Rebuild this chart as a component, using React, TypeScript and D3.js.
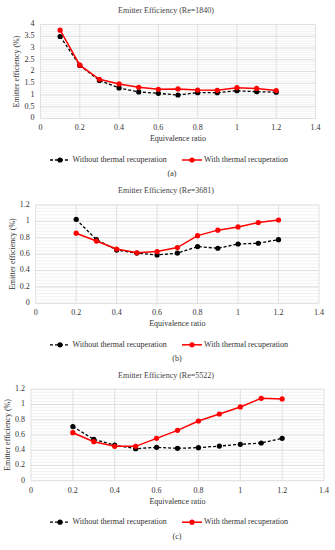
import React from "react";
import * as d3 from "d3";

// equivalence ratio
const phiA = [0.1, 0.2, 0.3, 0.4, 0.5, 0.6, 0.7, 0.8, 0.9, 1.0, 1.1, 1.2];
const phiBC = [0.2, 0.3, 0.4, 0.5, 0.6, 0.7, 0.8, 0.9, 1.0, 1.1, 1.2];

// Re=1840
const withoutA = [3.49, 2.26, 1.62, 1.3, 1.13, 1.07, 1.0, 1.1, 1.1, 1.18, 1.14, 1.12];
const withA = [3.76, 2.27, 1.67, 1.47, 1.33, 1.24, 1.26, 1.21, 1.2, 1.31, 1.28, 1.19];

// Re=3681
const withoutB = [1.025, 0.777, 0.65, 0.612, 0.59, 0.612, 0.692, 0.672, 0.724, 0.733, 0.777];
const withB = [0.856, 0.76, 0.663, 0.616, 0.632, 0.68, 0.826, 0.893, 0.932, 0.985, 1.017];

// Re=5522
const withoutC = [0.71, 0.543, 0.467, 0.42, 0.438, 0.425, 0.434, 0.455, 0.477, 0.495, 0.556];
const withC = [0.63, 0.512, 0.451, 0.451, 0.556, 0.661, 0.784, 0.876, 0.968, 1.082, 1.073];

const xTicks = [0, 0.2, 0.4, 0.6, 0.8, 1, 1.2, 1.4];
const yTicksA = [0, 0.5, 1, 1.5, 2, 2.5, 3, 3.5, 4];
const yTicksBC = [0, 0.2, 0.4, 0.6, 0.8, 1, 1.2];

const titles = ["Emitter Efficiency (Re=1840)", "Emitter Efficiency (Re=3681)", "Emitter Efficiency (Re=5522)"];
const captions = ["(a)", "(b)", "(c)"];
const seriesNames = ["Without thermal recuperation", "With thermal recuperation"];

const FONT = "'Liberation Serif', 'Times New Roman', serif";

type PanelProps = {
  top: number;
  left: number;
  right: number;
  plotTop: number;
  plotBottom: number;
  xs: number[];
  s1: number[];
  s2: number[];
  yTicks: number[];
  yMax: number;
  minorStep: number;
  labelX: number;
  title: string;
  caption: string;
};

function Panel(p: PanelProps) {
  const x = d3.scaleLinear().domain([0, 1.4]).range([p.left, p.right]);
  const y = d3.scaleLinear().domain([0, p.yMax]).range([p.plotBottom, p.plotTop]);
  const minor = d3.range(0, p.yMax + 1e-9, p.minorStep);
  const line = d3
    .line<number>()
    .x((_, i) => x(p.xs[i]))
    .y((d) => y(d));
  const midX = (p.left + p.right) / 2;
  const midY = (p.plotTop + p.plotBottom) / 2;
  const legY = p.plotBottom + 41.5;
  return (
    <g fontFamily={FONT} fontSize={8} fill="#333">
      <text x={166} y={p.top} textAnchor="middle" dominantBaseline="middle" fill="#444">
        {p.title}
      </text>
      {minor.map((v, i) => (
        <line key={"m" + i} x1={p.left} x2={p.right} y1={y(v)} y2={y(v)} stroke="#efefef" strokeWidth={0.8} />
      ))}
      {p.yTicks.map((v) => (
        <line key={"h" + v} x1={p.left} x2={p.right} y1={y(v)} y2={y(v)} stroke="#d9d9d9" strokeWidth={0.8} />
      ))}
      {xTicks.map((v) => (
        <line key={"v" + v} x1={x(v)} x2={x(v)} y1={p.plotTop} y2={p.plotBottom} stroke="#d9d9d9" strokeWidth={0.8} />
      ))}
      {p.yTicks.map((v) => (
        <text key={"yl" + v} x={p.left - 6} y={y(v)} textAnchor="end" dominantBaseline="middle">
          {String(v)}
        </text>
      ))}
      {xTicks.map((v) => (
        <text key={"xl" + v} x={x(v)} y={p.plotBottom + 10} textAnchor="middle" dominantBaseline="middle">
          {String(v)}
        </text>
      ))}
      <text x={midX} y={p.plotBottom + 21} textAnchor="middle" dominantBaseline="middle">
        Equivalence ratio
      </text>
      <text
        transform={`translate(${p.labelX},${midY}) rotate(-90)`}
        textAnchor="middle"
        dominantBaseline="middle"
      >
        Emitter efficiency (%)
      </text>
      <path d={line(p.s1) || ""} fill="none" stroke="#000" strokeWidth={1.3} strokeDasharray="3,2" />
      {p.s1.map((v, i) => (
        <circle key={"a" + i} cx={x(p.xs[i])} cy={y(v)} r={2.6} fill="#000" />
      ))}
      <path d={line(p.s2) || ""} fill="none" stroke="#ff0000" strokeWidth={1.5} />
      {p.s2.map((v, i) => (
        <circle key={"b" + i} cx={x(p.xs[i])} cy={y(v)} r={2.6} fill="#ff0000" />
      ))}
      {/* legend */}
      <line x1={50} x2={70} y1={legY} y2={legY} stroke="#000" strokeWidth={1.3} strokeDasharray="3,2" />
      <circle cx={60} cy={legY} r={2.6} fill="#000" />
      <text x={72.5} y={legY} dominantBaseline="middle">{seriesNames[0]}</text>
      <line x1={182} x2={202} y1={legY} y2={legY} stroke="#ff0000" strokeWidth={1.5} />
      <circle cx={192} cy={legY} r={2.6} fill="#ff0000" />
      <text x={204} y={legY} dominantBaseline="middle">{seriesNames[1]}</text>
      <text x={p.caption === "(a)" ? 172 : 177} y={p.plotBottom + 56} textAnchor="middle" dominantBaseline="middle">
        {p.caption}
      </text>
    </g>
  );
}

export default function App() {
  return (
    <svg
      width={335}
      height={550}
      style={{ position: "absolute", left: 0, top: 0, background: "#fff" }}
    >
      <rect width={335} height={550} fill="#fff" />
      <Panel
        top={11}
        left={40.5}
        right={315.5}
        plotTop={24.5}
        plotBottom={118.5}
        xs={phiA}
        s1={withoutA}
        s2={withA}
        yTicks={yTicksA}
        yMax={4}
        minorStep={0.1}
        labelX={17}
        title={titles[0]}
        caption={captions[0]}
      />
      <Panel
        top={191.5}
        left={35.7}
        right={319}
        plotTop={205}
        plotBottom={303.3}
        xs={phiBC}
        s1={withoutB}
        s2={withB}
        yTicks={yTicksBC}
        yMax={1.2}
        minorStep={0.04}
        labelX={13.3}
        title={titles[1]}
        caption={captions[1]}
      />
      <Panel
        top={376}
        left={31}
        right={324}
        plotTop={389.3}
        plotBottom={480.7}
        xs={phiBC}
        s1={withoutC}
        s2={withC}
        yTicks={yTicksBC}
        yMax={1.2}
        minorStep={0.04}
        labelX={8.3}
        title={titles[2]}
        caption={captions[2]}
      />
    </svg>
  );
}
